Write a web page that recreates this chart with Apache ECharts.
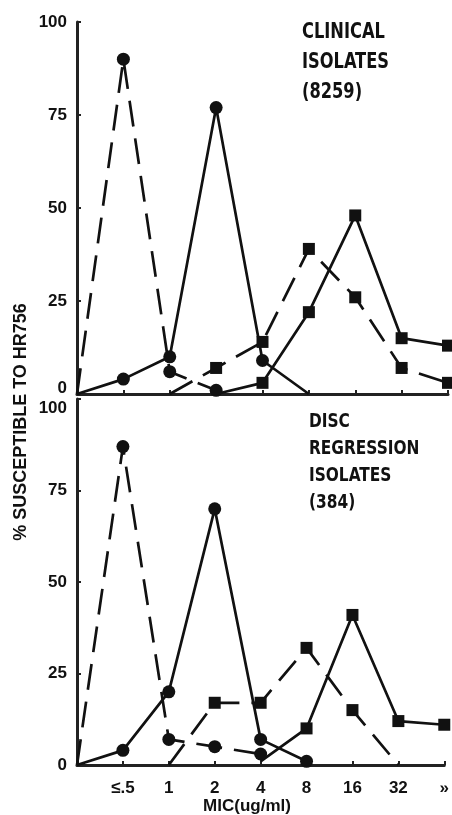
<!DOCTYPE html>
<html>
<head>
<meta charset="utf-8">
<script src="https://cdn.jsdelivr.net/npm/echarts@6/dist/echarts.min.js"></script>
<style>
  html, body { margin: 0; padding: 0; background: #fff; }
  #chart { width: 452px; height: 815px; }
</style>
</head>
<body>
<div id="chart"></div>
<script>
// MIC categories (first slot is the origin, no label)
const micLabels = ["", "≤.5", "1", "2", "4", "8", "16", "32", "»"];
const yTicks = [0, 25, 50, 75, 100];

// clinical isolates (top)
const clinSolidCircle = [0, 4, 10, 77, 9, 0, null, null, null];
const clinDashCircle = [0, 90, 6, 1, null, null, null, null, null];
const clinDashSquare = [null, null, 0, 7, 14, 39, 26, 7, 3];
const clinSolidSquare = [null, null, null, 0, 3, 22, 48, 15, 13];

// disc regression isolates (bottom)
const discSolidCircle = [0, 4, 20, 70, 7, 1, null, null, null];
const discDashCircle = [0, 87, 7, 5, 3, null, null, null, null];
const discDashSquare = [null, null, 0, 17, 17, 32, 15, 0, null];
const discSolidSquare = [null, null, null, null, 1, 10, 41, 12, 11];

const chart = echarts.init(document.getElementById("chart"));
const FONT = "'Liberation Sans', Arial, sans-serif";
const NARROW = "'Liberation Sans Narrow', 'DejaVu Sans Condensed', 'Liberation Sans', sans-serif";

// line ends that run into the axis carry no marker
const pts = (arr, bare) =>
  arr.map((v, i) => {
    if (v === null) return null;
    const first = i === 0 || arr[i - 1] === null;
    const last = i === arr.length - 1 || arr[i + 1] === null;
    if ((v === 0 && (first || last)) || (bare && first)) return { value: v, symbol: "none" };
    return v;
  });

const line = (name, data, idx, dashed, symbol, bareStart) => ({
  name,
  type: "line",
  xAxisIndex: idx,
  yAxisIndex: idx,
  data: pts(data, bareStart),
  symbol,
  symbolSize: symbol === "circle" ? 13 : 12,
  connectNulls: false,
  lineStyle: { color: "#111", width: 2.7, type: dashed ? [26, 12] : "solid" },
  itemStyle: { color: "#111" },
  z: 3,
});

const xAx = (idx, showLabels) => ({
  type: "category",
  gridIndex: idx,
  data: micLabels,
  boundaryGap: false,
  axisLine: { lineStyle: { color: "#222", width: 3 } },
  axisTick: { inside: true, length: 4, lineStyle: { color: "#222", width: 2 } },
  axisLabel: {
    show: showLabels,
    color: "#111",
    fontFamily: FONT,
    fontWeight: "bold",
    fontSize: 17,
    margin: 15,
  },
  splitLine: { show: false },
});

const labelRich = {
  up: { fontFamily: FONT, fontWeight: "bold", fontSize: 17, color: "#111", padding: [0, 0, 12, 0] },
  down: { fontFamily: FONT, fontWeight: "bold", fontSize: 17, color: "#111", padding: [18, 0, 0, 0] },
};

const yAx = (idx) => ({
  type: "value",
  gridIndex: idx,
  min: 0,
  max: 100,
  interval: 25,
  axisLine: { show: true, lineStyle: { color: "#222", width: 3 } },
  axisTick: { show: true, inside: true, length: 4, lineStyle: { color: "#222", width: 2 } },
  axisLabel: {
    color: "#111",
    fontFamily: FONT,
    fontWeight: "bold",
    fontSize: 17,
    margin: 10,
    rich: labelRich,
    formatter: (v) => {
      if (!yTicks.includes(v)) return "";
      if (idx === 0 && v === 0) return "{up|0}";
      if (idx === 1 && v === 100) return "{down|100}";
      return String(v);
    },
  },
  splitLine: { show: false },
});

const option = {
  backgroundColor: "#fff",
  animation: false,
  grid: [
    { left: 77, right: 4, top: 22, height: 372 },
    { left: 77, right: 4, top: 399, height: 366 },
  ],
  xAxis: [xAx(0, false), xAx(1, true)],
  yAxis: [yAx(0), yAx(1)],
  series: [
    line("clinical solid circle", clinSolidCircle, 0, false, "circle"),
    line("clinical dashed circle", clinDashCircle, 0, true, "circle"),
    line("clinical dashed square", clinDashSquare, 0, true, "rect"),
    line("clinical solid square", clinSolidSquare, 0, false, "rect"),
    line("disc solid circle", discSolidCircle, 1, false, "circle"),
    line("disc dashed circle", discDashCircle, 1, true, "circle"),
    line("disc dashed square", discDashSquare, 1, true, "rect"),
    line("disc solid square", discSolidSquare, 1, false, "rect", true),
  ],
  graphic: [
    {
      type: "text",
      x: 302,
      y: 18,
      scaleX: 0.86,
      style: {
        text: "CLINICAL\nISOLATES\n(8259)",
        font: "bold 21px " + NARROW,
        lineHeight: 30,
        fill: "#111",
      },
    },
    {
      type: "text",
      x: 309,
      y: 409,
      scaleX: 0.9,
      style: {
        text: "DISC\nREGRESSION\nISOLATES\n(384)",
        font: "bold 19px " + NARROW,
        lineHeight: 27,
        fill: "#111",
      },
    },
    {
      type: "text",
      x: 21,
      y: 422,
      rotation: Math.PI / 2,
      style: {
        text: "% SUSCEPTIBLE TO HR756",
        font: "bold 18px " + FONT,
        fill: "#111",
        align: "center",
        verticalAlign: "middle",
      },
    },
    {
      type: "text",
      x: 247,
      y: 806,
      style: {
        text: "MIC(ug/ml)",
        font: "bold 17px " + FONT,
        fill: "#111",
        align: "center",
        verticalAlign: "middle",
      },
    },
  ],
};

chart.setOption(option);
window.addEventListener("resize", () => chart.resize());
</script>
</body>
</html>
